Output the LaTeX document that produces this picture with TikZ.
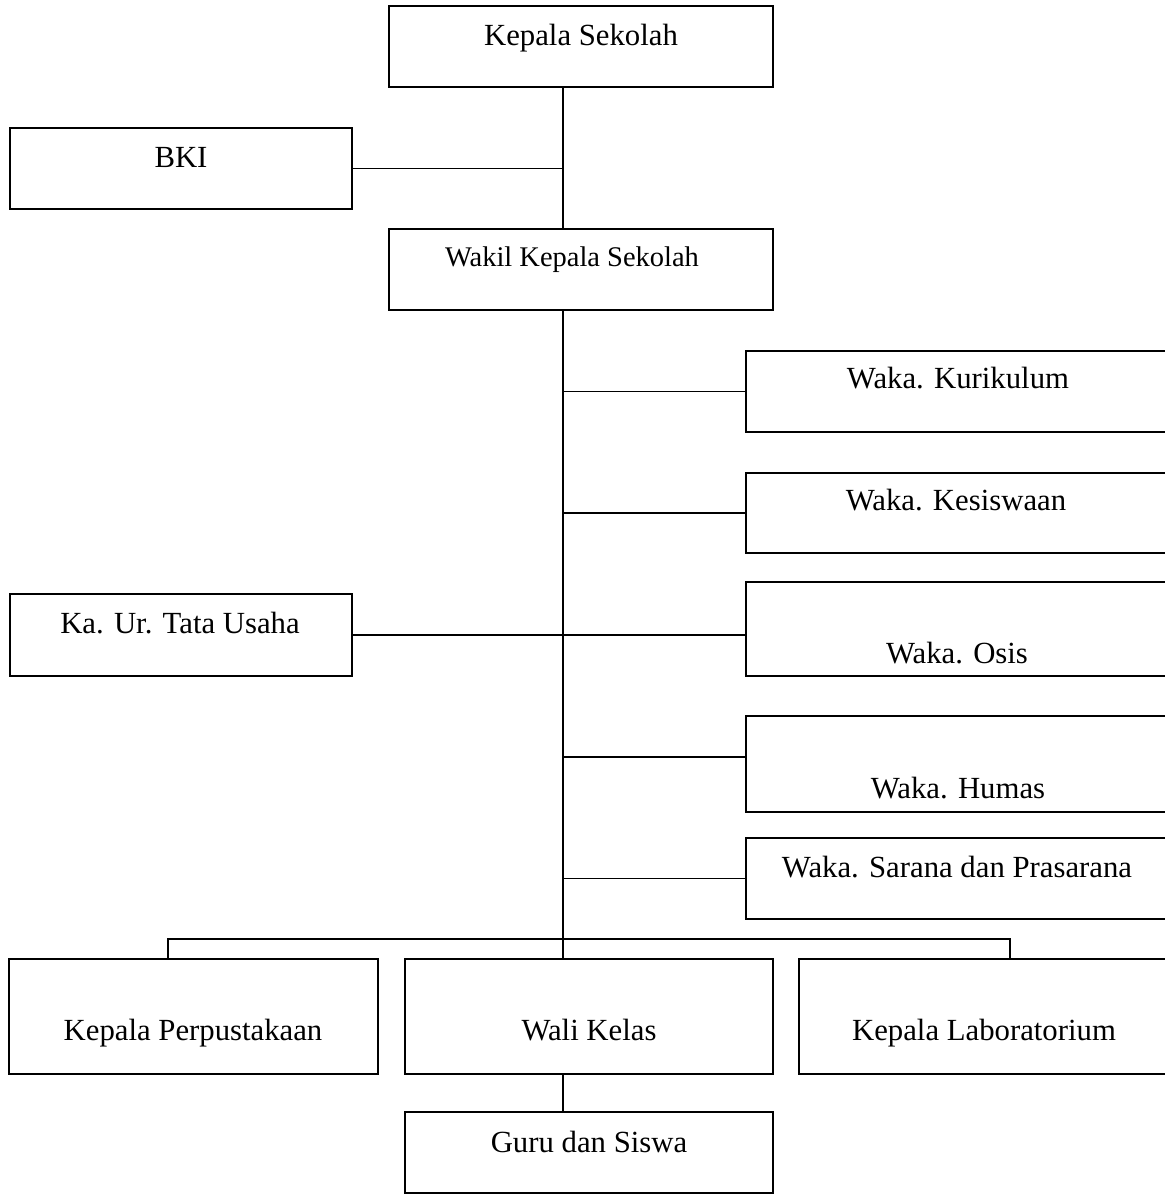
\documentclass[tikz,border=0pt]{standalone}
\usepackage{fontspec}
\setmainfont{Liberation Serif}

\begin{document}
\begin{tikzpicture}[x=0.02cm,y=-0.02cm]
            \useasboundingbox (0,0) rectangle (1165,1194);
            \begin{scope}[every node/.style={draw=black,line width=1.1pt,inner sep=0pt,minimum height=1.62cm}]
                \node[minimum width=7.68cm] (kepala) at (581,46.5) {};
                \node[minimum width=6.84cm] (bki) at (181,168.5) {};
                \node[minimum width=7.68cm] (wakil) at (581,269.5) {};
                \node[minimum width=8.48cm] (kur) at (958,391.5) {};
                \node[minimum width=8.48cm,minimum height=1.6cm] (kes) at (958,513) {};
                \node[minimum width=8.48cm,minimum height=1.88cm] (osis) at (958,629) {};
                \node[minimum width=6.84cm,minimum height=1.64cm] (tu) at (181,635) {};
                \node[minimum width=8.48cm,minimum height=1.92cm] (humas) at (958,764) {};
                \node[minimum width=8.48cm] (sarpras) at (958,878.5) {};
                \node[minimum width=7.38cm,minimum height=2.3cm] (perpus) at (193.5,1016.5) {};
                \node[minimum width=7.36cm,minimum height=2.3cm] (wali) at (589,1016.5) {};
                \node[minimum width=7.4cm,minimum height=2.3cm] (lab) at (984,1016.5) {};
                \node[minimum width=7.36cm] (guru) at (589,1152.5) {};
            \end{scope}
            \begin{scope}[every node/.style={anchor=base,inner sep=0pt,font=\fontsize{17.5}{20}\selectfont}]
                \node (tkepala) at (581,45) {Kepala Sekolah};
                \node (tbki) at (181,167) {BKI};
                \node[font=\fontsize{16.2}{19}\selectfont] (twakil) at (572,266) {Wakil Kepala Sekolah};
                \node (tkur) at (958,388) {Waka. Kurikulum};
                \node (tkes) at (956,510) {Waka. Kesiswaan};
                \node (ttu) at (180,633) {Ka. Ur. Tata Usaha};
                \node (tosis) at (957,663) {Waka. Osis};
                \node (thumas) at (958,798) {Waka. Humas};
                \node (tsarpras) at (957,877) {Waka. Sarana dan Prasarana};
                \node (tperpus) at (193,1040) {Kepala Perpustakaan};
                \node (twali) at (589,1040) {Wali Kelas};
                \node (tlab) at (984,1040) {Kepala Laboratorium};
                \node (tguru) at (589,1152) {Guru dan Siswa};
            \end{scope}
            \coordinate (jalur) at (563,0);
            \coordinate (hm) at (746,757);
            \coordinate (kiri) at (168,939);
            \coordinate (kanan) at (1010,939);
            \begin{scope}[line width=1pt]
                \draw (kepala.south -| jalur) -- (wakil.north -| jalur);
                \draw (bki.east) -- (bki.east -| jalur);
                \draw (wakil.south -| jalur) -- (wali.north -| jalur);
                \draw (kur.west) -- (kur.west -| jalur);
                \draw (kes.west) -- (kes.west -| jalur);
                \draw (tu.east) -- (osis.west |- tu.east);
                \draw (hm) -- (hm -| jalur);
                \draw (sarpras.west) -- (sarpras.west -| jalur);
                \draw (perpus.north -| kiri) -- (kiri) -- (kanan) -- (lab.north -| kanan);
                \draw (wali.south -| jalur) -- (guru.north -| jalur);
            \end{scope}
\end{tikzpicture}
\end{document}
